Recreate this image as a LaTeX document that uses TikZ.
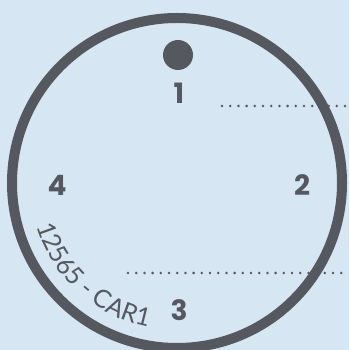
\documentclass[tikz,border=0pt]{standalone}
\usepackage{fontspec}
\setsansfont{Lato}
\newfontfamily\numfont{Poppins}
\usetikzlibrary{decorations.text}
\definecolor{dialblue}{HTML}{D6E6F3}
\definecolor{dialslate}{HTML}{55585F}

\begin{document}
\begin{tikzpicture}[x=1pt, y=1pt, font=\sffamily,
  posnum/.style={text=dialslate, font=\numfont\bfseries\fontsize{28}{28}\selectfont, inner sep=0pt},
  guide/.style={dialslate, line width=2.8pt, line cap=round, dash pattern=on 0pt off 8.2pt}]
  \fill[dialblue] (0,0) rectangle (349,350);
  \useasboundingbox (0,0) rectangle (349,350);

  \coordinate (hub) at (177,167);
  \draw[dialslate, line width=10pt] (hub) circle[radius=165pt];
  \node[circle, fill=dialslate, minimum size=30pt, inner sep=0pt] (key) at (178,295) {};

  \node[posnum] (p1) at (179,257) {1};
  \node[posnum] (p2) at (302,165) {2};
  \node[posnum] (p3) at (179,40) {3};
  \node[posnum] (p4) at (57,165) {4};

  \coordinate (g1end) at (349,244);
  \coordinate (g2end) at (349,77);
  \coordinate (g1start) at (222,244);
  \coordinate (g2start) at (128,77);
  \draw[guide] (g1start) -- (g1end);
  \draw[guide] (g2start) -- (g2end);

  \path[decorate, decoration={text along path, text align=left,
      text={|\sffamily\fontsize{25}{25}\selectfont\color{dialslate}|12565 - CAR1}}]
    (hub) ++(197:147pt) arc[start angle=197, end angle=275, radius=147pt];
\end{tikzpicture}
\end{document}
